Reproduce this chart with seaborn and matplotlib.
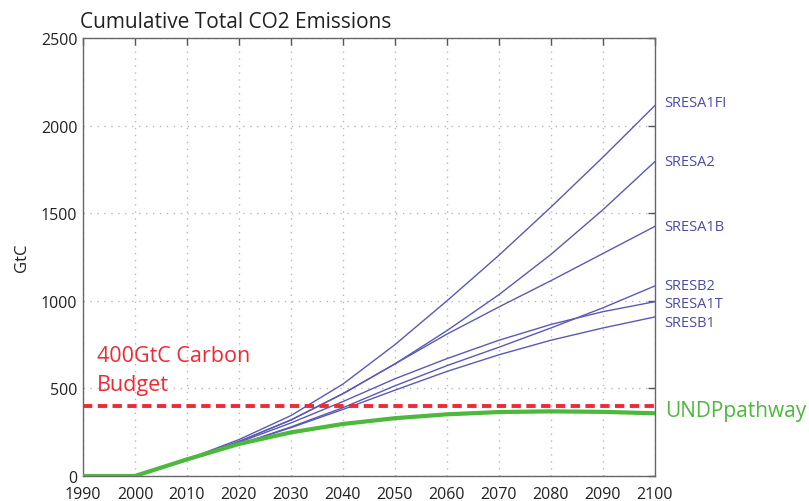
import numpy as np
import pandas as pd
import matplotlib
matplotlib.use("Agg")
import matplotlib.pyplot as plt
import seaborn as sns

# Cumulative emissions since 2000 (GtC) for the SRES scenarios, by decade
years = [2000, 2010, 2020, 2030, 2040, 2050, 2060, 2070, 2080, 2090, 2100]
sres_a1fi = [0, 95, 208, 345, 525, 750, 1000, 1260, 1535, 1820, 2115]
sres_a2 = [0, 93, 197, 320, 470, 640, 830, 1035, 1265, 1520, 1795]
sres_a1b = [0, 93, 197, 320, 470, 640, 810, 965, 1115, 1270, 1425]
sres_b2 = [0, 90, 180, 280, 390, 515, 630, 735, 845, 960, 1085]
sres_a1t = [0, 93, 192, 303, 425, 555, 670, 775, 865, 938, 995]
sres_b1 = [0, 90, 180, 276, 380, 490, 597, 692, 775, 845, 908]

scenario_names = ["SRESA1FI", "SRESA2", "SRESA1B", "SRESB2", "SRESA1T", "SRESB1"]
scenario_values = [sres_a1fi, sres_a2, sres_a1b, sres_b2, sres_a1t, sres_b1]
label_offsets = [2, 0, 0, 0, -1, -4]   # vertical nudges (points) for end labels

# UNDP pathway
undp_years = [1990, 2000, 2010, 2020, 2030, 2040, 2050, 2060, 2070, 2080, 2090, 2100]
undp_values = [0, 0, 95, 183, 249, 297, 330, 352, 365, 369, 366, 358]

budget = 400

x_ticks = list(range(1990, 2101, 10))
y_ticks = [0, 500, 1000, 1500, 2000, 2500]

sns.set_style("white")
plt.rcParams["font.family"] = ["Open Sans", "DejaVu Sans"]

blue = "#5a5ab4"
green = "#4cb83c"
red = "#ee2a36"

fig = plt.figure(figsize=(8.09, 5.02), dpi=100)
ax = fig.add_axes([0.1026, 0.0498, 0.7070, 0.8725])

df = pd.DataFrame(
    {
        "year": np.tile(years, len(scenario_names)),
        "GtC": np.concatenate(scenario_values),
        "scenario": np.repeat(scenario_names, len(years)),
    }
)
sns.lineplot(
    data=df, x="year", y="GtC", hue="scenario",
    palette={n: blue for n in scenario_names},
    linewidth=1.0, legend=False, ax=ax,
)

ax.axhline(budget, color=red, linestyle=(0, (2.4, 1.4)), linewidth=2.8, zorder=3)

sns.lineplot(x=undp_years, y=undp_values, color=green, linewidth=3.0, ax=ax, zorder=4)

ax.set_xlim(1990, 2100)
ax.set_ylim(0, 2500)
ax.set_xticks(x_ticks)
ax.set_yticks(y_ticks)
ax.grid(True, color="#b8b8b8", linestyle=(0, (1, 4)), linewidth=1.0)
ax.tick_params(axis="both", direction="in", length=5, width=1, color="#555555",
               top=True, right=True, labelsize=11.5, pad=4, labelcolor="#222222")
ax.tick_params(axis="x", pad=7)
for s in ax.spines.values():
    s.set_color("#666666")
    s.set_linewidth(1.0)

ax.set_xlabel("")
ax.set_ylabel("GtC", fontsize=12, color="#222222", labelpad=8)

ax.set_title("Cumulative Total CO2 Emissions", loc="left", fontsize=15,
             color="#222222", pad=8, x=-0.005)

for name, vals, dy in zip(scenario_names, scenario_values, label_offsets):
    ax.annotate(name, xy=(2100, vals[-1]), xytext=(7, dy), textcoords="offset points",
                ha="left", va="center", fontsize=10.5, color="#4a4aa8",
                annotation_clip=False)

ax.annotate("UNDPpathway", xy=(2100, undp_values[-1]), xytext=(7, 2),
            textcoords="offset points", ha="left", va="center", fontsize=15,
            color=green, annotation_clip=False)

ax.text(1992.6, 745, "400GtC Carbon\nBudget", color=red, fontsize=15.5,
        ha="left", va="top", linespacing=1.45)

fig.savefig("out.png", dpi=100)
